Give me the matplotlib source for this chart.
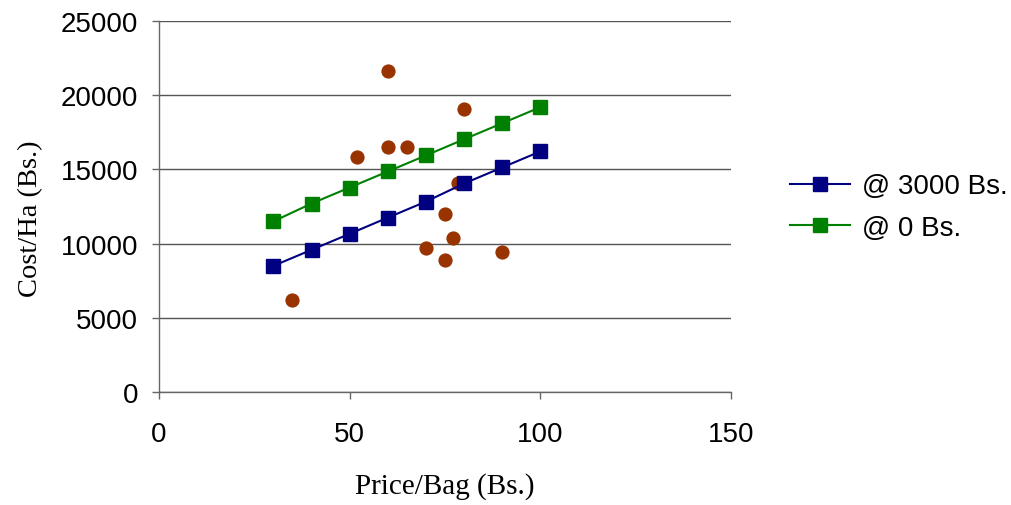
import matplotlib
matplotlib.use("Agg")
import matplotlib.pyplot as plt

# Data
price = [30, 40, 50, 60, 70, 80, 90, 100]
cost_3000 = [8500, 9580, 10660, 11750, 12830, 14050, 15130, 16210]
cost_0 = [11500, 12700, 13780, 14860, 15940, 17030, 18110, 19190]
obs_price = [35, 52, 60, 60, 65, 70, 75, 75, 77, 78.5, 80, 90]
obs_cost = [6200, 15830, 21620, 16480, 16480, 9720, 8900, 12020, 10390, 14050, 19080, 9450]

series_labels = ["@ 3000 Bs.", "@ 0 Bs."]
x_ticks = [0, 50, 100, 150]
y_ticks = [0, 5000, 10000, 15000, 20000, 25000]

fig = plt.figure(figsize=(10.11, 5.06), dpi=100)
ax = fig.add_axes([159/1011, 1-393/506, (731-159)/1011, (393-22)/506])

ax.scatter(obs_price, obs_cost, s=105, color="#993300", zorder=3, linewidths=0)
ax.plot(price, cost_3000, color="#000080", lw=1.5, marker="s", markersize=9.5,
        label=series_labels[0], zorder=4)
ax.plot(price, cost_0, color="#008000", lw=1.5, marker="s", markersize=9.5,
        label=series_labels[1], zorder=4)

ax.set_xlim(0, 150)
ax.set_ylim(0, 25000)
ax.set_xticks(x_ticks)
ax.set_yticks(y_ticks)
ax.yaxis.grid(True, color="#555555", lw=1)
ax.set_axisbelow(True)
for s in ["top", "right"]:
    ax.spines[s].set_visible(False)
for s in ["left", "bottom"]:
    ax.spines[s].set_color("#666666")
    ax.spines[s].set_linewidth(1)

ax.tick_params(axis="both", direction="out", length=5, width=1, color="#666666")
ax.tick_params(axis="y", pad=10)
ax.tick_params(axis="x", pad=16)
for lab in ax.get_xticklabels() + ax.get_yticklabels():
    lab.set_fontfamily("Liberation Sans")
    lab.set_fontsize(20)

ax.set_xlabel("Price/Bag (Bs.)", family="Liberation Serif", fontsize=21, labelpad=18)
ax.set_ylabel("Cost/Ha (Bs.)", family="Liberation Serif", fontsize=20.5)
ax.yaxis.set_label_coords(-0.202, 0.47)

leg = fig.legend(loc="center left", bbox_to_anchor=(790/1011, 1-208/506),
                 frameon=False, prop=dict(family="Liberation Sans", size=20),
                 handlelength=2.15, handletextpad=0.45, borderpad=0,
                 borderaxespad=0, labelspacing=0.55)

fig.savefig("out.png", dpi=100)
